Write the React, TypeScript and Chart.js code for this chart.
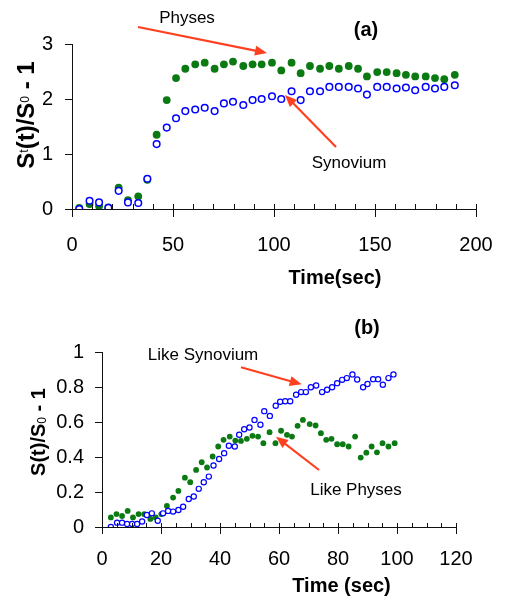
import React, { useEffect, useRef } from 'react';
import { Chart, registerables } from 'chart.js';

Chart.register(...registerables);

const FONT = '"Liberation Sans", Arial, Helvetica, sans-serif';

// ---------- Panel (a) ----------
const topTime = [3.6, 8.7, 13.4, 18.0, 23.1, 27.7, 32.8, 37.3, 41.9, 46.9, 51.5, 56.1, 61.0, 65.7, 70.6, 75.2, 79.7, 84.8, 89.4, 93.9, 99.0, 103.6, 108.7, 113.2, 117.8, 122.8, 127.4, 132.1, 137.0, 141.6, 146.0, 151.1, 155.8, 160.7, 165.3, 169.9, 175.1, 179.7, 184.3, 189.5];
const topSynovium = [0.0, 0.15, 0.12, 0.02, 0.33, 0.12, 0.11, 0.55, 1.18, 1.48, 1.65, 1.78, 1.81, 1.84, 1.78, 1.92, 1.95, 1.89, 1.98, 2.0, 2.05, 2.0, 2.14, 1.98, 2.14, 2.14, 2.22, 2.22, 2.22, 2.19, 2.08, 2.22, 2.22, 2.19, 2.21, 2.16, 2.22, 2.19, 2.22, 2.25];
const topPhyses = [0.02, 0.09, 0.05, 0.03, 0.39, 0.16, 0.23, 0.53, 1.35, 1.98, 2.38, 2.55, 2.63, 2.66, 2.55, 2.63, 2.68, 2.6, 2.63, 2.63, 2.66, 2.52, 2.66, 2.47, 2.6, 2.55, 2.6, 2.55, 2.6, 2.55, 2.41, 2.49, 2.49, 2.47, 2.44, 2.41, 2.41, 2.38, 2.36, 2.44];
const topXTicks = [0, 50, 100, 150, 200];
const topYTicks = [0, 1, 2, 3];

// ---------- Panel (b) ----------
const botSynTime = [3.0, 5.1, 6.8, 8.5, 10.2, 11.9, 13.6, 15.2, 16.9, 18.9, 20.7, 22.4, 24.1, 25.9, 27.5, 29.4, 31.1, 32.8, 34.5, 36.2, 37.8, 39.7, 41.4, 43.0, 45.0, 46.5, 48.2, 50.0, 51.7, 53.7, 55.0, 56.9, 58.9, 60.4, 62.1, 63.8, 65.8, 67.5, 69.1, 70.8, 72.6, 74.6, 76.3, 78.0, 79.7, 81.4, 83.0, 84.9, 86.5, 88.5, 90.0, 91.9, 93.6, 95.2, 97.1, 98.8];
const botSynovium = [0.0, 0.025, 0.025, 0.017, 0.017, 0.017, 0.031, 0.069, 0.078, 0.036, 0.078, 0.092, 0.088, 0.097, 0.116, 0.16, 0.174, 0.218, 0.256, 0.288, 0.351, 0.389, 0.422, 0.464, 0.46, 0.527, 0.559, 0.569, 0.612, 0.584, 0.662, 0.635, 0.693, 0.716, 0.719, 0.719, 0.756, 0.771, 0.771, 0.799, 0.809, 0.771, 0.784, 0.799, 0.822, 0.841, 0.851, 0.872, 0.843, 0.799, 0.817, 0.845, 0.845, 0.813, 0.851, 0.872];
const botPhyTime = [3.0, 4.9, 6.8, 8.7, 10.5, 12.4, 14.3, 16.4, 18.2, 20.1, 22.0, 24.1, 25.9, 28.1, 29.9, 31.9, 33.8, 35.6, 37.5, 39.4, 41.2, 43.3, 45.2, 47.1, 49.1, 51.0, 52.9, 54.7, 56.8, 58.8, 60.7, 62.7, 64.4, 66.3, 68.1, 70.4, 72.4, 74.2, 76.0, 77.8, 79.7, 81.6, 83.6, 85.8, 87.7, 89.6, 91.4, 93.2, 95.1, 97.1, 99.2];
const botPhyses = [0.055, 0.074, 0.063, 0.092, 0.055, 0.074, 0.074, 0.046, 0.055, 0.074, 0.12, 0.168, 0.206, 0.282, 0.256, 0.326, 0.37, 0.34, 0.403, 0.46, 0.498, 0.517, 0.494, 0.492, 0.504, 0.521, 0.517, 0.479, 0.542, 0.479, 0.55, 0.527, 0.517, 0.578, 0.612, 0.588, 0.58, 0.536, 0.498, 0.504, 0.473, 0.473, 0.46, 0.517, 0.397, 0.425, 0.46, 0.427, 0.479, 0.46, 0.479];
const botXTicks = [0, 20, 40, 60, 80, 100, 120];
const botYTicks = [0, 0.2, 0.4, 0.6, 0.8, 1];

const GREEN = '#0b7a12';
const BLUE = '#0000ff';
const RED = '#ff4020';
const AXIS = '#111111';

type Seg = { t: string; font: string; dy?: number };

function drawRich(ctx: CanvasRenderingContext2D, segs: Seg[], cx: number, cy: number, rotate: boolean, base: number) {
  ctx.save();
  ctx.translate(cx, cy);
  if (rotate) ctx.rotate(-Math.PI / 2);
  let total = 0;
  const widths = segs.map((s) => {
    ctx.font = s.font;
    const w = ctx.measureText(s.t).width;
    total += w;
    return w;
  });
  let x = -total / 2;
  ctx.textBaseline = 'alphabetic';
  ctx.textAlign = 'left';
  ctx.fillStyle = '#000';
  segs.forEach((s, i) => {
    ctx.font = s.font;
    ctx.fillText(s.t, x, base + (s.dy || 0));
    x += widths[i];
  });
  ctx.restore();
}

function drawText(ctx: CanvasRenderingContext2D, t: string, font: string, cx: number, cy: number) {
  ctx.save();
  ctx.font = font;
  ctx.fillStyle = '#000';
  ctx.textAlign = 'center';
  ctx.textBaseline = 'middle';
  ctx.fillText(t, cx, cy);
  ctx.restore();
}

function drawArrow(ctx: CanvasRenderingContext2D, x1: number, y1: number, x2: number, y2: number) {
  const a = Math.atan2(y2 - y1, x2 - x1);
  const hl = 12;
  const hw = 5;
  const c = Math.cos(a);
  const s = Math.sin(a);
  ctx.save();
  ctx.strokeStyle = RED;
  ctx.fillStyle = RED;
  ctx.lineWidth = 2.2;
  ctx.beginPath();
  ctx.moveTo(x1, y1);
  ctx.lineTo(x2 - hl * 0.8 * c, y2 - hl * 0.8 * s);
  ctx.stroke();
  ctx.beginPath();
  ctx.moveTo(x2, y2);
  ctx.lineTo(x2 - hl * c + hw * s, y2 - hl * s - hw * c);
  ctx.lineTo(x2 - hl * c - hw * s, y2 - hl * s + hw * c);
  ctx.closePath();
  ctx.fill();
  ctx.restore();
}

type PanelCfg = {
  height: number;
  xMax: number;
  yMax: number;
  xTicks: number[];
  yTicks: number[];
  minorX: number;
  padTop: number;
  padRight: number;
  yWidth: number;
  xHeight: number;
  xLabelPad: number;
  yLabelPad: number;
  tickUp: number;
  tickDown: number;
  yTickLen: number;
  radiusG: number;
  radiusB: number;
  borderB: number;
  synTime: number[];
  syn: number[];
  phyTime: number[];
  phy: number[];
  decorate: (ctx: CanvasRenderingContext2D) => void;
};

function zeroPad(s: any) {
  s.paddingLeft = 0;
  s.paddingRight = 0;
  s.paddingTop = 0;
  s.paddingBottom = 0;
}

function makeChart(canvas: HTMLCanvasElement, p: PanelCfg) {
  const decor = {
    id: 'decor',
    afterDraw(chart: any) {
      const ctx: CanvasRenderingContext2D = chart.ctx;
      const xs = chart.scales.x;
      const ys = chart.scales.y;
      const bottom = chart.chartArea.bottom;
      const left = chart.chartArea.left;
      ctx.save();
      ctx.strokeStyle = AXIS;
      ctx.lineWidth = 1;
      for (let v = 0; v <= p.xMax + 1e-9; v += p.minorX) {
        const px = Math.round(xs.getPixelForValue(v)) + 0.5;
        const major = p.xTicks.some((t) => Math.abs(t - v) < 1e-6);
        ctx.beginPath();
        ctx.moveTo(px, bottom - p.tickUp);
        ctx.lineTo(px, bottom + (major ? p.tickDown : 0));
        ctx.stroke();
      }
      p.yTicks.forEach((v) => {
        const py = Math.round(ys.getPixelForValue(v)) + 0.5;
        ctx.beginPath();
        ctx.moveTo(left - p.yTickLen, py);
        ctx.lineTo(left, py);
        ctx.stroke();
      });
      ctx.restore();
      p.decorate(ctx);
    },
  };

  return new Chart(canvas, {
    type: 'scatter',
    data: {
      datasets: [
        {
          label: 'Synovium',
          data: p.synTime.map((t, i) => ({ x: t, y: p.syn[i] })),
          pointRadius: p.radiusB,
          pointBorderWidth: p.borderB,
          pointBorderColor: BLUE,
          pointBackgroundColor: '#ffffff',
          showLine: false,
        },
        {
          label: 'Physes',
          data: p.phyTime.map((t, i) => ({ x: t, y: p.phy[i] })),
          pointRadius: p.radiusG,
          pointBorderWidth: 0,
          pointBorderColor: GREEN,
          pointBackgroundColor: GREEN,
          showLine: false,
        },
      ],
    },
    options: {
      animation: false,
      responsive: false,
      maintainAspectRatio: false,
      layout: { padding: { left: 0, right: p.padRight, top: p.padTop, bottom: 0 } },
      plugins: { legend: { display: false }, tooltip: { enabled: false } },
      scales: {
        x: {
          type: 'linear',
          min: 0,
          max: p.xMax,
          afterBuildTicks: (s: any) => {
            s.ticks = p.xTicks.map((v) => ({ value: v }));
          },
          afterFit: (s: any) => {
            s.height = p.xHeight;
            zeroPad(s);
          },
          grid: { display: false, drawTicks: false },
          border: { display: true, color: AXIS, width: 1 },
          ticks: {
            font: { family: FONT, size: 20 },
            color: '#000',
            padding: p.xLabelPad,
            maxRotation: 0,
            autoSkip: false,
            callback: (v: any) => String(v),
          },
        },
        y: {
          type: 'linear',
          min: 0,
          max: p.yMax,
          afterBuildTicks: (s: any) => {
            s.ticks = p.yTicks.map((v) => ({ value: v }));
          },
          afterFit: (s: any) => {
            s.width = p.yWidth;
            zeroPad(s);
          },
          grid: { display: false, drawTicks: false },
          border: { display: true, color: AXIS, width: 1 },
          ticks: {
            font: { family: FONT, size: 20 },
            color: '#000',
            padding: p.yLabelPad,
            autoSkip: false,
            callback: (v: any) => String(Math.round(Number(v) * 10) / 10),
          },
        },
      },
    },
    plugins: [decor],
  } as any);
}

const topCfg: PanelCfg = {
  height: 300,
  xMax: 200,
  yMax: 3,
  xTicks: topXTicks,
  yTicks: topYTicks,
  minorX: 10,
  padTop: 44,
  padRight: 32,
  yWidth: 72,
  xHeight: 91,
  xLabelPad: 24,
  yLabelPad: 19,
  tickUp: 5,
  tickDown: 8,
  yTickLen: 7,
  radiusG: 3.9,
  radiusB: 3.3,
  borderB: 1.5,
  synTime: topTime,
  syn: topSynovium,
  phyTime: topTime,
  phy: topPhyses,
  decorate: (ctx) => {
    drawText(ctx, '(a)', `bold 20px ${FONT}`, 366, 30);
    drawText(ctx, 'Physes', `17px ${FONT}`, 187, 18);
    drawArrow(ctx, 138, 27, 267, 53);
    drawText(ctx, 'Synovium', `17px ${FONT}`, 349, 163);
    drawArrow(ctx, 336, 147, 285, 95);
    drawText(ctx, 'Time(sec)', `bold 20px ${FONT}`, 335, 278);
    drawRich(
      ctx,
      [
        { t: 'S', font: `bold 24px ${FONT}` },
        { t: 't', font: `12px ${FONT}`, dy: -6 },
        { t: '(t)/S', font: `bold 24px ${FONT}` },
        { t: '0', font: `12px ${FONT}`, dy: -5 },
        { t: ' - 1', font: `bold 24px ${FONT}` },
      ],
      25,
      115,
      true,
      9
    );
  },
};

const botCfg: PanelCfg = {
  height: 297,
  xMax: 120,
  yMax: 1,
  xTicks: botXTicks,
  yTicks: botYTicks,
  minorX: 5,
  padTop: 52,
  padRight: 52,
  yWidth: 102,
  xHeight: 70,
  xLabelPad: 20,
  yLabelPad: 18,
  tickUp: 4,
  tickDown: 7,
  yTickLen: 7,
  radiusG: 2.9,
  radiusB: 2.6,
  borderB: 1.2,
  synTime: botSynTime,
  syn: botSynovium,
  phyTime: botPhyTime,
  phy: botPhyses,
  decorate: (ctx) => {
    drawText(ctx, '(b)', `bold 20px ${FONT}`, 367, 28);
    drawText(ctx, 'Like Synovium', `17px ${FONT}`, 203, 55);
    drawArrow(ctx, 241, 67.3, 301.7, 84.3);
    drawText(ctx, 'Like Physes', `17px ${FONT}`, 356, 190.7);
    drawArrow(ctx, 319, 170, 276, 136.7);
    drawText(ctx, 'Time (sec)', `bold 20px ${FONT}`, 341.5, 286);
    drawRich(
      ctx,
      [
        { t: 'S(t)/S', font: `bold 20px ${FONT}` },
        { t: '0', font: `12px ${FONT}`, dy: 1 },
        { t: ' - 1', font: `bold 20px ${FONT}` },
      ],
      37,
      132,
      true,
      7.5
    );
  },
};

function Panel({ cfg }: { cfg: PanelCfg }) {
  const ref = useRef<HTMLCanvasElement | null>(null);
  useEffect(() => {
    if (!ref.current) return;
    const chart = makeChart(ref.current, cfg);
    return () => chart.destroy();
  }, [cfg]);
  return <canvas ref={ref} width={508} height={cfg.height} style={{ display: 'block', width: 508, height: cfg.height }} />;
}

export default function App() {
  return (
    <div style={{ position: 'absolute', left: 0, top: 0, width: 508, height: 597, background: '#fff', overflow: 'hidden' }}>
      <Panel cfg={topCfg} />
      <Panel cfg={botCfg} />
    </div>
  );
}
